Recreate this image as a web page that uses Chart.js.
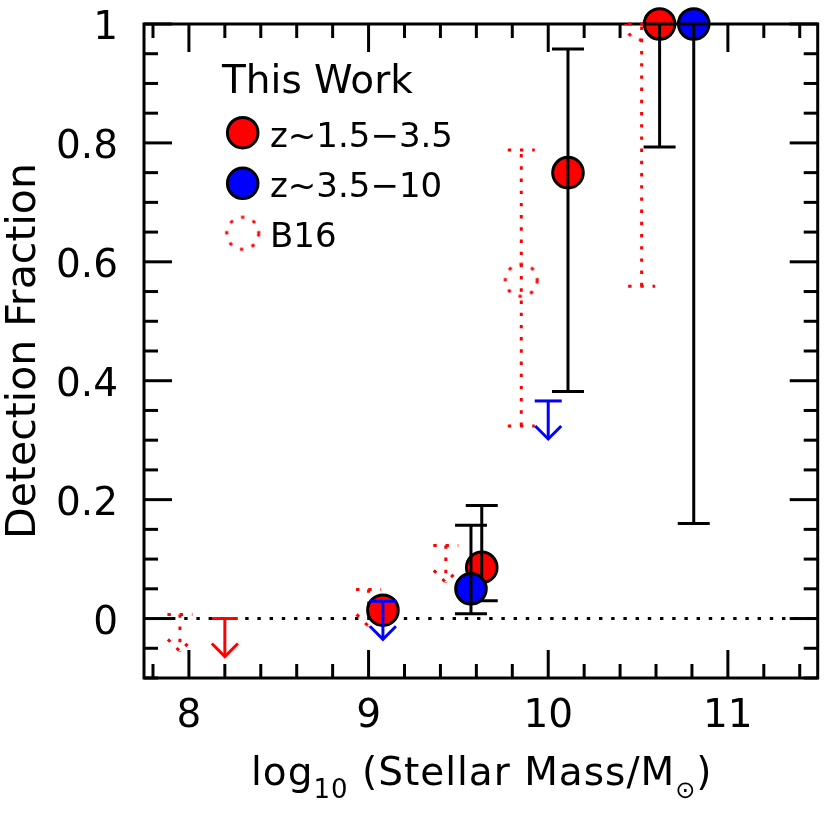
<!DOCTYPE html>
<html><head><meta charset="utf-8">
<script src="https://cdn.jsdelivr.net/npm/chart.js@4.4.0/dist/chart.umd.min.js"></script>
<style>
html,body{margin:0;padding:0;background:#fff;overflow:hidden;width:830px;height:819px}
#wrap{width:836px;height:819px}
canvas{display:block}
</style></head>
<body><div id="wrap"><canvas id="c" width="836" height="819"></canvas></div>
<script>
// ---------------- data ----------------
const xTickValues = [8, 9, 10, 11];
const xTickLabels = ['8', '9', '10', '11'];
const yTickValues = [0, 0.2, 0.4, 0.6, 0.8, 1];
const yTickLabels = ['0', '0.2', '0.4', '0.6', '0.8', '1'];

// This Work, z~1.5-3.5 (red filled circles, black error bars)
const redMass = [9.08, 9.63, 10.11, 10.62];
const redFrac = [0.014, 0.086, 0.75, 1.0];
const redLo   = [null, 0.030, 0.382, 0.793];
const redHi   = [null, 0.190, 0.958, 1.0];
// red upper limits
const redLimMass = [8.20];
const redLimFrac = [0.0];

// This Work, z~3.5-10 (blue filled circles)
const blueMass = [9.57, 10.81];
const blueFrac = [0.05, 1.0];
const blueLo   = [0.008, 0.16];
const blueHi   = [0.157, 1.0];
// blue upper limits
const blueLimMass = [9.08, 10.0];
const blueLimFrac = [0.029, 0.366];

// B16 (dotted red)
const b16Mass = [9.85, 10.52];
const b16Frac = [0.569, 1.0];
const b16Lo   = [0.324, 0.559];
const b16Hi   = [0.788, 1.0];
const b16LimMass = [7.95, 9.0, 9.43];
const b16LimFrac = [0.007, 0.049, 0.123];

const legendTitle = 'This Work';
const legendLabels = ['z~1.5\u22123.5', 'z~3.5\u221210', 'B16'];
const xTitleParts = ['log', '10', ' (Stellar Mass/M', '\u2299', ')'];
const yTitle = 'Detection Fraction';

// ---------------- styles ----------------
const FONT = '"DejaVu Sans", sans-serif';
const RED = '#ff0000', BLUE = '#0000ff', BLACK = '#000000';
const DOT = [3.4, 8.8];
const PR = 15.3; // point radius

function dottedCircle(r, color) {
  const c = document.createElement('canvas');
  const s = Math.ceil(2 * r + 8);
  c.width = s; c.height = s;
  const g = c.getContext('2d');
  g.strokeStyle = color; g.lineWidth = 3; g.setLineDash(DOT);
  g.beginPath(); g.arc(s / 2, s / 2, r, 0, 2 * Math.PI); g.stroke();
  return c;
}
const b16Style = dottedCircle(16, RED);

function seg(ctx, x1, y1, x2, y2) { ctx.beginPath(); ctx.moveTo(x1, y1); ctx.lineTo(x2, y2); ctx.stroke(); }

function errorBar(chart, x, lo, hi, capW, color, dash) {
  const ctx = chart.ctx;
  const xs = chart.scales.x.getPixelForValue(x);
  const yl = chart.scales.y.getPixelForValue(lo);
  const yh = chart.scales.y.getPixelForValue(hi);
  ctx.save(); ctx.strokeStyle = color; ctx.lineWidth = 3; ctx.setLineDash(dash || []);
  seg(ctx, xs, yl, xs, yh);
  seg(ctx, xs - capW / 2, yl, xs + capW / 2, yl);
  seg(ctx, xs - capW / 2, yh, xs + capW / 2, yh);
  ctx.restore();
}
function upperLimit(chart, x, y, barW, len, head, color, dash) {
  const ctx = chart.ctx;
  const xs = chart.scales.x.getPixelForValue(x);
  const ys = chart.scales.y.getPixelForValue(y);
  ctx.save(); ctx.strokeStyle = color; ctx.lineWidth = 3; ctx.setLineDash(dash || []);
  seg(ctx, xs - barW / 2, ys, xs + barW / 2, ys);
  seg(ctx, xs, ys, xs, ys + len);
  ctx.beginPath(); ctx.moveTo(xs - head, ys + len - head); ctx.lineTo(xs, ys + len); ctx.lineTo(xs + head, ys + len - head); ctx.stroke();
  ctx.restore();
}

const marksPlugin = {
  id: 'marks',
  beforeDatasetsDraw(chart) {
    const ctx = chart.ctx, a = chart.chartArea, sx = chart.scales.x, sy = chart.scales.y;
    ctx.save();
    ctx.strokeStyle = BLACK; ctx.lineWidth = 3; ctx.lineCap = 'butt';
    // zero line
    ctx.save(); ctx.setLineDash(DOT);
    const y0 = sy.getPixelForValue(0);
    seg(ctx, a.left + 28, y0, a.right, y0);
    ctx.restore();
    // frame
    ctx.strokeRect(a.left, a.top, a.right - a.left, a.bottom - a.top);
    // x ticks (inward, top and bottom)
    for (let k = Math.ceil(sx.min / 0.2); k * 0.2 <= sx.max + 1e-9; k++) {
      const v = Math.round(k * 2) / 10;
      const major = Math.abs(v - Math.round(v)) < 1e-6;
      const L = major ? 28 : 14;
      const p = sx.getPixelForValue(v);
      seg(ctx, p, a.bottom, p, a.bottom - L);
      seg(ctx, p, a.top, p, a.top + L);
    }
    // y ticks (inward, left and right)
    for (let k = Math.ceil(sy.min / 0.05); k * 0.05 <= sy.max + 1e-9; k++) {
      const v = Math.round(k * 5) / 100;
      const major = Math.abs(v * 5 - Math.round(v * 5)) < 1e-6;
      const L = major ? 28 : 14;
      const p = sy.getPixelForValue(v);
      seg(ctx, a.left, p, a.left + L, p);
      seg(ctx, a.right, p, a.right - L, p);
    }
    ctx.restore();
  },
  beforeDatasetDraw(chart, args) {
    const lab = chart.data.datasets[args.index].label;
    if (lab === 'B16') {
      b16Mass.forEach((m, i) => errorBar(chart, m, b16Lo[i], b16Hi[i], 27, RED, DOT));
      b16LimMass.forEach((m, i) => upperLimit(chart, m, b16LimFrac[i], 25, 37, 12, RED, DOT));
    } else if (lab === legendLabels[0]) {
      redLimMass.forEach((m, i) => upperLimit(chart, m, redLimFrac[i], 26, 38, 13, RED));
    }
  },
  afterDatasetDraw(chart, args) {
    const lab = chart.data.datasets[args.index].label;
    if (lab === legendLabels[0]) {
      redMass.forEach((m, i) => { if (redLo[i] !== null) errorBar(chart, m, redLo[i], redHi[i], 32, BLACK); });
    } else if (lab === legendLabels[1]) {
      blueMass.forEach((m, i) => errorBar(chart, m, blueLo[i], blueHi[i], 32, BLACK));
      blueLimMass.forEach((m, i) => upperLimit(chart, m, blueLimFrac[i], 27, 38, 13, BLUE));
    }
  },
  afterDraw(chart) {
    const ctx = chart.ctx, a = chart.chartArea;
    ctx.save();
    ctx.fillStyle = BLACK; ctx.textAlign = 'left'; ctx.textBaseline = 'alphabetic';
    // legend
    ctx.font = '39px ' + FONT;
    ctx.fillText(legendTitle, a.left + 78, a.top + 69);
    const cx = a.left + 98.7;
    const rows = [a.top + 108.7, a.top + 159.3, a.top + 209.3];
    const styles = [
      {fill: RED, stroke: BLACK, style: 'circle'},
      {fill: BLUE, stroke: BLACK, style: 'circle'},
      {fill: null, stroke: null, style: b16Style}
    ];
    rows.forEach((cy, i) => {
      const s = styles[i];
      ctx.fillStyle = s.fill || 'rgba(0,0,0,0)';
      ctx.strokeStyle = s.stroke || 'rgba(0,0,0,0)';
      ctx.lineWidth = 3;
      Chart.helpers.drawPoint(ctx, {pointStyle: s.style, radius: PR, borderWidth: s.stroke ? 3 : 0, rotation: 0}, cx, cy);
      ctx.fillStyle = BLACK;
      ctx.font = '34px ' + FONT;
      ctx.fillText(legendLabels[i], a.left + 126, cy + 14);
    });
    // x-axis title with subscripts
    const sizes = [39, 26, 39, 24, 39];
    const dys = [0, 13, 0, 13, 0];
    if ('letterSpacing' in ctx) ctx.letterSpacing = '1px';
    let x = a.left + 107, y = a.bottom + 107;
    xTitleParts.forEach((t, i) => {
      ctx.font = sizes[i] + 'px ' + FONT;
      ctx.fillText(t, x, y + dys[i]);
      x += ctx.measureText(t).width;
    });
    ctx.restore();
  }
};

function zeroPad(s) { s.paddingLeft = 0; s.paddingRight = 0; s.paddingTop = 0; s.paddingBottom = 0; }

Chart.defaults.font.family = FONT;
Chart.defaults.color = BLACK;

new Chart(document.getElementById('c'), {
  type: 'scatter',
  data: {
    datasets: [
      {
        label: 'B16',
        data: b16Mass.map((m, i) => ({x: m, y: b16Frac[i]})),
        pointStyle: b16Style, pointRadius: 16, pointHoverRadius: 16,
        pointBackgroundColor: 'rgba(0,0,0,0)', pointBorderColor: RED, pointBorderWidth: 0,
        order: 3, clip: 0
      },
      {
        label: legendLabels[0],
        data: redMass.map((m, i) => ({x: m, y: redFrac[i]})),
        pointStyle: 'circle', pointRadius: PR, pointHoverRadius: PR,
        pointBackgroundColor: RED, pointBorderColor: BLACK, pointBorderWidth: 3, pointHoverBorderWidth: 3,
        order: 2, clip: false
      },
      {
        label: legendLabels[1],
        data: blueMass.map((m, i) => ({x: m, y: blueFrac[i]})),
        pointStyle: 'circle', pointRadius: PR, pointHoverRadius: PR,
        pointBackgroundColor: BLUE, pointBorderColor: BLACK, pointBorderWidth: 3, pointHoverBorderWidth: 3,
        order: 1, clip: false
      }
    ]
  },
  options: {
    responsive: false,
    animation: false,
    events: [],
    devicePixelRatio: 1,
    layout: {padding: {left: 0, right: 3, top: 24, bottom: 0}},
    plugins: {legend: {display: false}, tooltip: {enabled: false}},
    scales: {
      x: {
        type: 'linear', position: 'bottom', min: 7.75, max: 11.5,
        grid: {display: false, drawTicks: false}, border: {display: false},
        afterBuildTicks: s => { s.ticks = xTickValues.map(v => ({value: v})); },
        afterFit: s => { s.height = 141; zeroPad(s); },
        ticks: {
          autoSkip: false, maxRotation: 0, padding: 15, color: BLACK,
          font: {size: 39, family: FONT},
          callback: v => xTickLabels[xTickValues.indexOf(v)]
        }
      },
      y: {
        type: 'linear', position: 'left', min: -0.1, max: 1.0,
        grid: {display: false, drawTicks: false}, border: {display: false},
        afterBuildTicks: s => { s.ticks = yTickValues.map(v => ({value: v})); },
        afterFit: s => { s.width = 144; zeroPad(s); },
        title: {display: true, text: yTitle, color: BLACK, font: {size: 41, family: FONT}, padding: {top: 0, bottom: 0}},
        ticks: {
          autoSkip: false, padding: 26, labelOffset: 5, color: BLACK,
          font: {size: 39, family: FONT},
          callback: v => yTickLabels[yTickValues.indexOf(v)]
        }
      }
    }
  },
  plugins: [marksPlugin]
});
</script>
</body></html>
